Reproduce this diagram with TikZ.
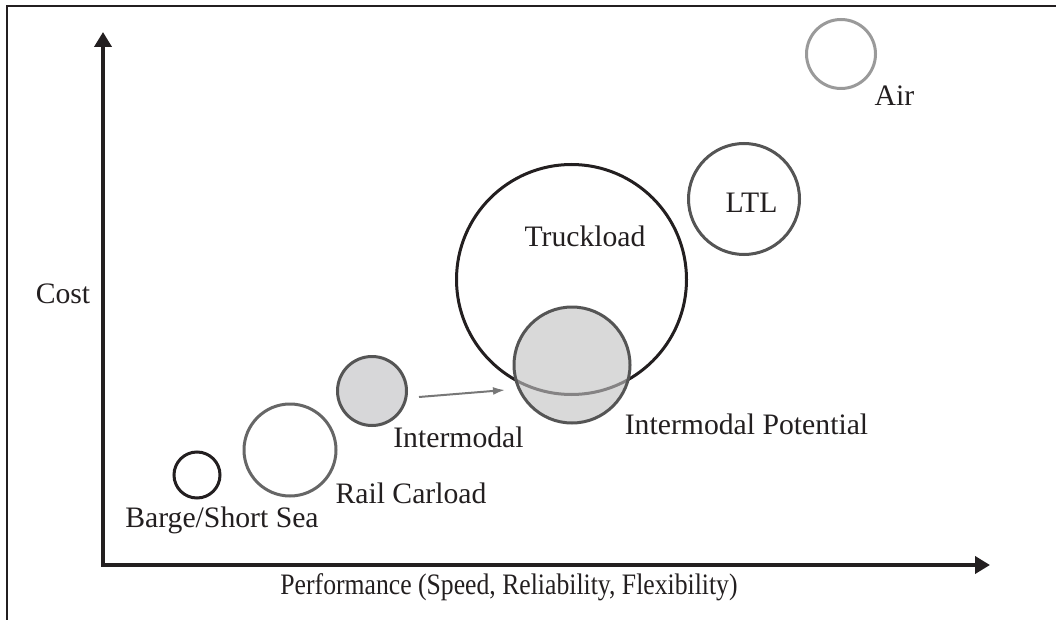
\documentclass[tikz,border=0pt]{standalone}
\usepackage{fontspec}
\setmainfont{Liberation Serif}
\newfontfamily\narrowserif[FakeStretch=0.865]{Liberation Serif}
\usetikzlibrary{arrows.meta}
\definecolor{ink}{HTML}{231F20}
\definecolor{airgray}{HTML}{9A9A9A}
\definecolor{ringgray}{HTML}{555555}
\definecolor{railgray}{HTML}{666666}
\definecolor{potfill}{HTML}{D7D7D9}
\definecolor{arrowgray}{HTML}{777777}

\begin{document}
\begin{tikzpicture}[x=1pt,y=-1pt,font=\fontsize{29.7}{34}\selectfont,
  mode/.style={circle,draw=#1,line width=3pt,inner sep=0pt},
  lbl/.style={anchor=base,inner sep=0pt,text=ink},
  axis/.style={draw=ink,line width=4pt,{Triangle[length=15pt,width=17pt]}-{Triangle[length=15pt,width=17pt]}},
  shiftarrow/.style={draw=arrowgray,line width=2pt,-{Latex[length=12pt,width=8pt]}}]

\useasboundingbox (0,0) rectangle (1056,620);

% frame
\coordinate (fa) at (7,620);
\coordinate (fb) at (7,6);
\coordinate (fc) at (1056,6);
\draw[ink,line width=2.5pt] (fa) -- (fb) -- (fc);

% axes
\coordinate (ytip) at (103,32);
\coordinate (o) at (103,565);
\coordinate (xtip) at (990,565);
\draw[axis] (ytip) -- (o) -- (xtip);
\node[lbl] (cost) at (63,303) {Cost};
\node[lbl,font=\narrowserif\fontsize{29.7}{34}\selectfont] (perf) at (509,594) {Performance (Speed, Reliability, Flexibility)};

% modes
\node[mode=airgray,minimum size=69pt] (air) at (841,54) {};
\node[mode=ringgray,minimum size=111pt] (ltl) at (744,199) {};
\node[mode=ink,minimum size=230pt] (truck) at (571.5,279.5) {};
\node[mode=ringgray,fill=black!24,fill opacity=0.62,minimum size=116pt] (pot) at (572,365) {};
\node[mode=ringgray,fill=potfill,minimum size=69pt] (inter) at (372,391) {};
\node[mode=railgray,minimum size=92pt] (rail) at (290,450) {};
\node[mode=ink,minimum size=46pt] (barge) at (197,475) {};

\node[lbl] (airlbl) at (894.5,106) {Air};
\node[lbl] (ltllbl) at (751.5,213) {LTL};
\node[lbl] (trucklbl) at (585,246) {Truckload};
\node[lbl] (potlbl) at (746.5,434) {Intermodal Potential};
\node[lbl] (interlbl) at (458.5,447) {Intermodal};
\node[lbl] (raillbl) at (411,503) {Rail Carload};
\node[lbl] (bargelbl) at (222,527) {Barge/Short Sea};

\draw[shiftarrow] ([shift={(11,6)}]inter.east) -- ([shift={(-7.5,25)}]pot.west);

\end{tikzpicture}
\end{document}
